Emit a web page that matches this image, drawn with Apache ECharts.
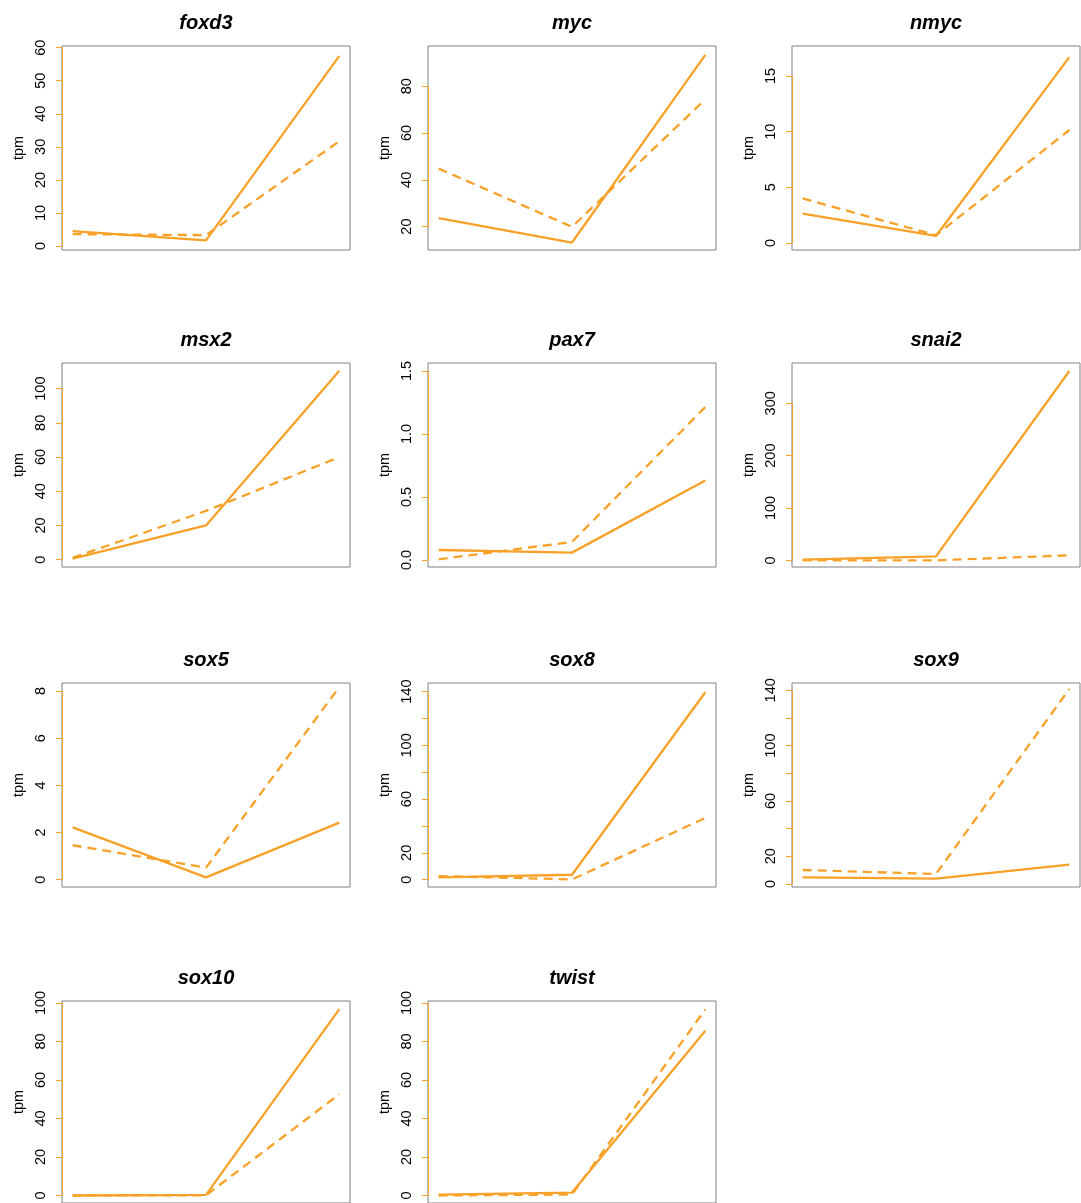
<!DOCTYPE html>
<html>
<head>
<meta charset="utf-8">
<script src="https://cdn.jsdelivr.net/npm/echarts@6/dist/echarts.min.js"></script>
<style>
html,body{margin:0;padding:0;background:#fff;}
#chart{width:1081px;height:1203px;}
</style>
</head>
<body>
<div id="chart"></div>
<script>
// ---- data ----
const genes = ['foxd3','myc','nmyc','msx2','pax7','snai2','sox5','sox8','sox9','sox10','twist'];
const xPositions = [1, 2, 3];
const solidTpm = [
  [4.5, 1.7, 57.5],
  [23.6, 13.2, 93.4],
  [2.63, 0.63, 16.7],
  [0.6, 20.0, 110.5],
  [0.079, 0.058, 0.63],
  [1.3, 7.6, 361.8],
  [2.22, 0.1, 2.42],
  [1.7, 3.7, 139.5],
  [4.8, 3.9, 14.0],
  [0, 0.3, 96.8],
  [0.5, 1.5, 85.5]
];
const dashedTpm = [
  [3.6, 3.3, 31.7],
  [44.8, 19.9, 74.4],
  [4.0, 0.7, 10.15],
  [1.0, 28.5, 60.0],
  [0.005, 0.143, 1.214],
  [0, 0, 9.6],
  [1.46, 0.51, 8.17],
  [2.7, 0.25, 46.0],
  [10.1, 7.2, 141],
  [0, 0.1, 52.6],
  [0, 0.5, 96.6]
];
const yMin = [-1.2, 10.0, -0.63, -4.3, -0.056, -12.7, -0.31, -5.4, -2.2, -3.9, -3.9];
const yMax = [60.5, 97.2, 17.7, 115, 1.563, 377, 8.34, 146.4, 145.3, 101, 101];
const tickValues = [
  [0,10,20,30,40,50,60],
  [20,40,60,80],
  [0,5,10,15],
  [0,20,40,60,80,100],
  [0,0.5,1,1.5],
  [0,100,200,300],
  [0,2,4,6,8],
  [0,20,40,60,80,100,120,140],
  [0,20,40,60,80,100,120,140],
  [0,20,40,60,80,100],
  [0,20,40,60,80,100]
];
const tickLabels = [
  [0,10,20,30,40,50,60],
  [20,40,60,80],
  [0,5,10,15],
  [0,20,40,60,80,100],
  [0,0.5,1,1.5],
  [0,100,200,300],
  [0,2,4,6,8],
  [0,20,60,100,140],
  [0,20,60,100,140],
  [0,20,40,60,80,100],
  [0,20,40,60,80,100]
];
const labelDecimals = [0,0,0,0,1,0,0,0,0,0,0];

// ---- layout ----
const ORANGE = '#F8A128';
const colLeft = [62, 428, 792];
const rowTop = [46, 363, 683, 1001];
const W = 288, H = 204;
const XMIN = 0.92, XMAX = 3.08;
const FONT = 'Liberation Sans';

const grids = [], xAxes = [], yAxes = [], series = [], titles = [];
genes.forEach((g, i) => {
  const col = i % 3, row = Math.floor(i / 3);
  const left = colLeft[col], top = rowTop[row];
  grids.push({left: left, top: top, width: W, height: H, show: true,
    borderColor: '#808080', borderWidth: 1, backgroundColor: 'transparent', containLabel: false});
  titles.push({text: g, left: left + W / 2, top: top - 33, textAlign: 'center', padding: 0,
    textStyle: {fontFamily: FONT, fontSize: 20, fontWeight: 'bold', fontStyle: 'italic', color: '#000'}});
  xAxes.push({type: 'value', gridIndex: i, min: XMIN, max: XMAX, show: false});
  const dec = labelDecimals[i];
  const ticks = tickValues[i];
  yAxes.push({type: 'value', gridIndex: i, min: yMin[i], max: yMax[i],
    name: 'tpm', nameLocation: 'middle', nameGap: 36,
    nameTextStyle: {fontFamily: FONT, fontSize: 14.5, color: '#000'},
    axisLine: {show: false},
    splitLine: {show: false},
    axisTick: {show: true, inside: false, length: 6, customValues: ticks,
      lineStyle: {color: ORANGE, width: 1}},
    axisLabel: {show: true, rotate: 90, margin: 14, customValues: tickLabels[i],
      fontFamily: FONT, fontSize: 14.5, color: '#000',
      formatter: v => Number(v).toFixed(dec)}
  });
  series.push({
    type: 'line', xAxisIndex: i, yAxisIndex: i, symbol: 'none', silent: true,
    data: xPositions.map((x, k) => [x, solidTpm[i][k]]),
    lineStyle: {color: ORANGE, width: 2.3, type: 'solid'},
    markLine: {silent: true, symbol: 'none', label: {show: false},
      lineStyle: {color: ORANGE, width: 1, type: 'solid'},
      data: [[{coord: [XMIN, ticks[0]]}, {coord: [XMIN, ticks[ticks.length - 1]]}]]}
  });
  series.push({
    type: 'line', xAxisIndex: i, yAxisIndex: i, symbol: 'none', silent: true,
    data: xPositions.map((x, k) => [x, dashedTpm[i][k]]),
    lineStyle: {color: ORANGE, width: 2.3, type: [9, 6]}
  });
});

const chart = echarts.init(document.getElementById('chart'), null, {renderer: 'canvas'});
chart.setOption({
  animation: false,
  backgroundColor: '#fff',
  title: titles,
  grid: grids,
  xAxis: xAxes,
  yAxis: yAxes,
  series: series
});
</script>
</body>
</html>
